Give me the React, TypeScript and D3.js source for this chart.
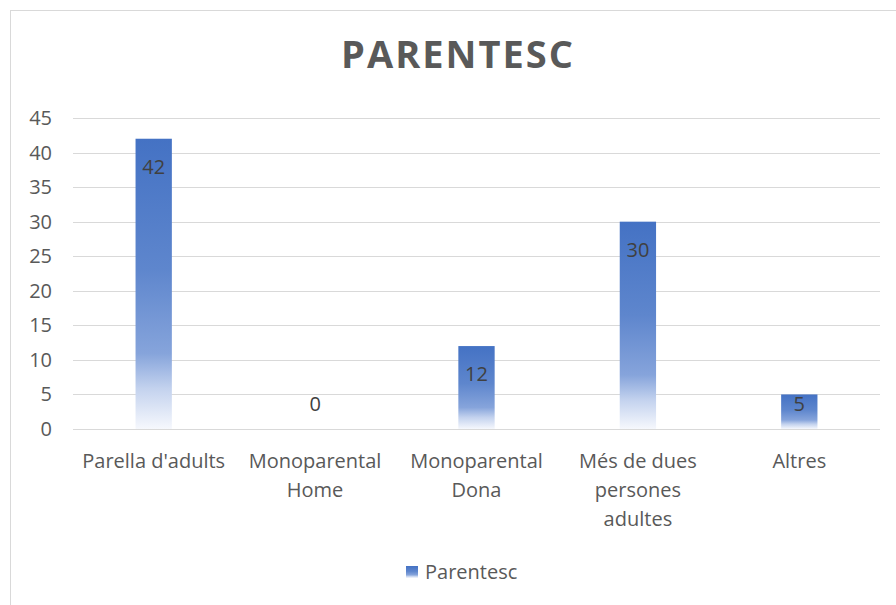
import React from "react";
import * as d3 from "d3";

const title = "PARENTESC";
const categories = [
  ["Parella d'adults"],
  ["Monoparental", "Home"],
  ["Monoparental", "Dona"],
  ["Més de dues", "persones", "adultes"],
  ["Altres"],
];
const values = [42, 0, 12, 30, 5];
const yTicks = [0, 5, 10, 15, 20, 25, 30, 35, 40, 45];
const seriesName = "Parentesc";

const W = 896;
const H = 605;
const FONT = "'Open Sans', 'Liberation Sans', sans-serif";
const TXT = "#595959";

export default function App() {
  const left = 73;
  const right = 880;
  const top = 118;
  const bottom = 429;
  const x = d3
    .scaleBand<number>()
    .domain(d3.range(values.length))
    .range([left, right])
    .padding(0);
  const y = d3.scaleLinear().domain([0, 45]).range([bottom, top]);
  const barW = x.bandwidth() * 0.225;

  return (
    <svg
      width={W}
      height={H}
      style={{ position: "absolute", left: 0, top: 0, background: "#fff" }}
      fontFamily={FONT}
    >
      <defs>
        <linearGradient id="barGrad" x1="0" y1="0" x2="0" y2="1">
          <stop offset="0" stopColor="#4472C4" />
          <stop offset="0.45" stopColor="#5E86CD" />
          <stop offset="0.74" stopColor="#86A4DB" />
          <stop offset="0.86" stopColor="#C3D2EE" />
          <stop offset="1" stopColor="#F6F8FD" />
        </linearGradient>
      </defs>
      <rect x={0} y={0} width={W} height={H} fill="#fff" />
      <rect
        x={10.5}
        y={10.5}
        width={W + 20}
        height={H + 20}
        fill="#fff"
        stroke="#d9d9d9"
        strokeWidth={1}
      />
      <text
        x={458}
        y={68}
        textAnchor="middle"
        fontSize={38}
        fontWeight="bold"
        fill={TXT}
        letterSpacing={2}
      >
        {title}
      </text>
      {yTicks.map((t) => (
        <g key={t}>
          <line
            x1={left}
            x2={right}
            y1={Math.round(y(t)) + 0.5}
            y2={Math.round(y(t)) + 0.5}
            stroke="#d9d9d9"
            strokeWidth={1}
          />
          <text
            x={52}
            y={y(t)}
            dy="0.35em"
            textAnchor="end"
            fontSize={20}
            fill={TXT}
          >
            {t}
          </text>
        </g>
      ))}
      {values.map((v, i) => {
        const cx = (x(i) as number) + x.bandwidth() / 2;
        const yTop = y(v);
        const labelY = Math.min(yTop + 28, bottom - 25);
        return (
          <g key={i}>
            {v > 0 && (
              <rect
                x={cx - barW / 2}
                y={yTop}
                width={barW}
                height={bottom - yTop}
                fill="url(#barGrad)"
              />
            )}
            <text
              x={cx}
              y={labelY}
              dy="0.35em"
              textAnchor="middle"
              fontSize={20}
              fill="#404040"
            >
              {v}
            </text>
            {categories[i].map((line, j) => (
              <text
                key={j}
                x={cx}
                y={461 + j * 29}
                dy="0.35em"
                textAnchor="middle"
                fontSize={20}
                fill={TXT}
              >
                {line}
              </text>
            ))}
          </g>
        );
      })}
      <rect x={406} y={566} width={12} height={12} fill="url(#barGrad)" />
      <text x={425} y={572} dy="0.35em" fontSize={20} fill={TXT}>
        {seriesName}
      </text>
    </svg>
  );
}
